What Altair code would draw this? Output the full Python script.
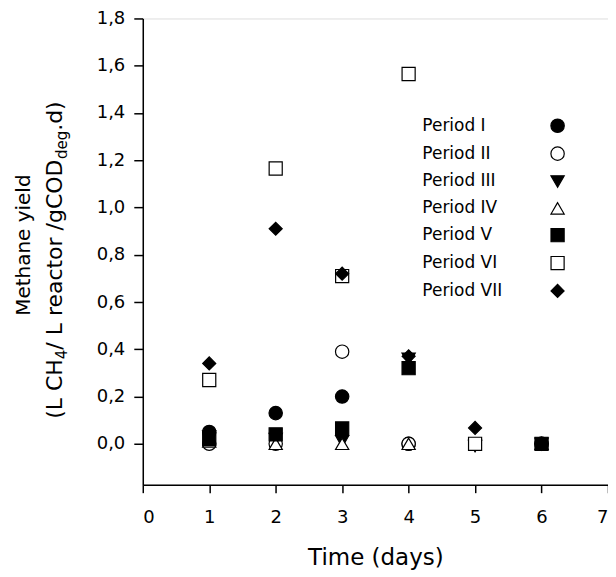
import altair as alt
import pandas as pd

days = [1, 2, 3, 4, 5, 6]
periods = ["Period I", "Period II", "Period III", "Period IV", "Period V", "Period VI", "Period VII"]
p1 = [0.05, 0.13, 0.20, 0.00, None, 0.00]
p2 = [0.00, 0.00, 0.39, 0.00, None, 0.00]
p3 = [0.03, 0.02, 0.01, 0.36, -0.01, 0.00]
p4 = [0.01, 0.00, 0.00, 0.00, None, 0.00]
p5 = [0.02, 0.04, 0.065, 0.32, None, 0.00]
p6 = [0.27, 1.165, 0.71, 1.565, 0.00, None]
p7 = [0.34, 0.91, 0.72, 0.37, 0.067, 0.00]
series = [p1, p2, p3, p4, p5, p6, p7]
y_ticks = [0.0, 0.2, 0.4, 0.6, 0.8, 1.0, 1.2, 1.4, 1.6, 1.8]
x_ticks = [0, 1, 2, 3, 4, 5, 6, 7]
x_title = "Time (days)"
y_title_1 = "Methane yield"
y_title_2 = [("(L CH", "main"), ("4", "sub"), ("/ L reactor /gCOD", "main"), ("deg", "sub"), (".d)", "main")]

# marker styles
shapes = ["circle", "circle", "triangle-down", "triangle-up", "square", "square", "diamond"]
fills = ["black", "white", "black", "white", "black", "white", "black"]
sizes = [180, 170, 160, 150, 140, 145, 210]

rows = []
for i, (name, vals) in enumerate(zip(periods, series)):
    for d, v in zip(days, vals):
        if v is not None:
            rows.append({"day": d, "yield": v, "period": name, "idx": i})
df = pd.DataFrame(rows)

font = "DejaVu Sans"

legend = alt.Legend(title=None, orient="none", legendX=407, legendY=99,
                    labelAlign="left", labelOffset={"expr": "-144"}, labelFontSize=17,
                    labelFont=font, labelColor="black",
                    symbolStrokeWidth=1.2, rowPadding=8.9, symbolOffset=0)

points = alt.Chart(df).mark_point(filled=False, strokeWidth=1.2, opacity=1).encode(
    x=alt.X("day:Q", scale=alt.Scale(domain=[0, 7], nice=False, zero=False),
            axis=alt.Axis(values=x_ticks, title=x_title, grid=False, tickSize=8,
                          labelFontSize=18, titleFontSize=23, titleFontWeight="normal",
                          labelPadding=16, titlePadding=20, domainColor="black", tickColor="black",
                          labelColor="black", titleColor="black", labelFont=font, titleFont=font,
                          domainWidth=1.5, tickWidth=1.5)),
    y=alt.Y("yield:Q", scale=alt.Scale(domain=[-0.173, 1.8], nice=False, zero=False),
            axis=alt.Axis(values=y_ticks, title=None,
                          grid=False, tickSize=9, labelFontSize=18, labelPadding=9,
                          labelExpr="replace(format(datum.value, '.1f'), '.', ',')",
                          domainColor="black", tickColor="black", labelColor="black",
                          labelFont=font, domainWidth=1.5, tickWidth=1.5)),
    shape=alt.Shape("period:N", scale=alt.Scale(domain=periods, range=shapes), legend=legend),
    fill=alt.Fill("period:N", scale=alt.Scale(domain=periods, range=fills), legend=legend),
    stroke=alt.Stroke("period:N", scale=alt.Scale(domain=periods, range=["black"] * 7), legend=legend),
    size=alt.Size("period:N", scale=alt.Scale(domain=periods, range=sizes), legend=legend),
    order=alt.Order("idx:Q"),
)

# y-axis title drawn as text (needs subscripts)
char_w = {"(": .390, "L": .557, " ": .318, "C": .698, "H": .752, "/": .337, "r": .411,
          "e": .615, "a": .613, "c": .550, "t": .392, "o": .612, "g": .635, "O": .787,
          "D": .770, "d": .635, ".": .318, ")": .390, "4": .636}
main_fs, sub_fs = 22, 15
def seg_w(s, fs):
    return sum(char_w[c] for c in s) * fs

layers = [points]
one = pd.DataFrame({"t": [y_title_1]})
layers.append(alt.Chart(one).mark_text(angle=270, align="center", baseline="alphabetic",
                                       font=font, fontSize=20, color="black").encode(
    x=alt.value(-113), y=alt.value(227), text="t:N"))

total = sum(seg_w(s, main_fs if k == "main" else sub_fs) for s, k in y_title_2)
pos = 242 + total / 2
for s, k in y_title_2:
    fs = main_fs if k == "main" else sub_fs
    seg = pd.DataFrame({"t": [s]})
    layers.append(alt.Chart(seg).mark_text(angle=270, align="left", baseline="alphabetic",
                                           font=font, fontSize=fs, color="black").encode(
        x=alt.value(-81 + (5 if k == "sub" else 0)), y=alt.value(pos), text="t:N"))
    pos -= seg_w(s, fs)

chart = alt.layer(*layers).properties(
    width=466, height=467,
    autosize=alt.AutoSizeParams(type="none"),
    padding={"left": 135, "top": 10, "right": 0, "bottom": 92},
).configure_view(stroke="black", strokeWidth=1.5).configure(background="white")

chart.save("out.html", embed_options={"renderer": "svg", "actions": False})
